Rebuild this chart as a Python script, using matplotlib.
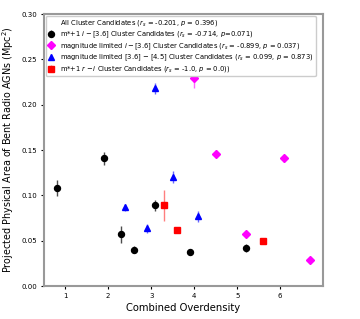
import numpy as np
import matplotlib.pyplot as plt
from matplotlib.lines import Line2D

# m*+1 i-[3.6]
blk_x = [0.8, 1.9, 2.3, 2.6, 3.1, 3.9, 5.2]
blk_y = [0.108, 0.141, 0.057, 0.040, 0.089, 0.038, 0.042]
blk_e = [0.0085, 0.007, 0.0095, 0.004, 0.0065, 0.003, 0.0045]

# magnitude limited i-[3.6]
mag_x = [4.0, 4.5, 5.2, 6.1, 6.7]
mag_y = [0.229, 0.146, 0.058, 0.141, 0.029]
mag_e = [0.0105, 0.004, 0.003, 0.004, 0.003]

# magnitude limited [3.6]-[4.5]
blu_x = [2.4, 2.9, 3.1, 3.5, 4.1]
blu_y = [0.087, 0.064, 0.218, 0.120, 0.077]
blu_e = [0.004, 0.005, 0.006, 0.0068, 0.006]

# m*+1 r-i
red_x = [3.3, 3.6, 5.6]
red_y = [0.089, 0.062, 0.050]
red_e = [0.017, 0.002, 0.002]

labels = [
    r"All Cluster Candidates ($r_s$ = -0.201, $p$ = 0.396)",
    r"m*+1 $i-$[3.6] Cluster Candidates ($r_s$ = -0.714, $p$=0.071)",
    r"magnitude limited $i-$[3.6] Cluster Candidates ($r_s$ = -0.899, $p$ = 0.037)",
    r"magnitude limited [3.6] $-$ [4.5] Cluster Candidates ($r_s$ = 0.099, $p$ = 0.873)",
    r"m*+1 $r-i$ Cluster Candidates ($r_s$ = -1.0, $p$ = 0.0))",
]

fig = plt.figure(figsize=(3.6, 3.19), dpi=100)
ax = fig.add_axes([0.122, 0.103, 0.775, 0.853])

ax.errorbar(blk_x, blk_y, yerr=blk_e, fmt='o', color='k', ms=4.3,
            ecolor=(0, 0, 0, 0.7), elinewidth=1.0, label=labels[1])
ax.errorbar(mag_x, mag_y, yerr=mag_e, fmt='D', color='magenta', ms=3.8,
            ecolor=(1, 0, 1, 0.6), elinewidth=1.0, label=labels[2])
ax.errorbar(blu_x, blu_y, yerr=blu_e, fmt='^', color='blue', ms=4.3,
            ecolor=(0, 0, 1, 0.6), elinewidth=1.0, label=labels[3])
ax.errorbar(red_x, red_y, yerr=red_e, fmt='s', color='red', ms=3.8,
            ecolor=(1, 0, 0, 0.5), elinewidth=1.0, label=labels[4])

handles, labs = ax.get_legend_handles_labels()
empty = Line2D([], [], linestyle='none', marker=None)
ax.legend([empty] + handles, [labels[0]] + labs, loc='upper left',
          fontsize=4.85, handlelength=1.0, handletextpad=0.8,
          borderaxespad=0.3, labelspacing=0.18, borderpad=0.3,
          framealpha=1)

ax.set_ylim(0, 0.30)
ax.set_xticks([1, 2, 3, 4, 5, 6])
ax.tick_params(labelsize=5, length=2.5, width=0.8, pad=2.5)
for s in ax.spines.values():
    s.set_color('#999999')
    s.set_linewidth(1.5)

ax.set_xlabel("Combined Overdensity", fontsize=7.2, labelpad=3)
ax.set_ylabel("Projected Physical Area of Bent Radio AGNs (Mpc$^2$)", fontsize=6.9, labelpad=4)

plt.savefig("out.png", dpi=100)
plt.close()
